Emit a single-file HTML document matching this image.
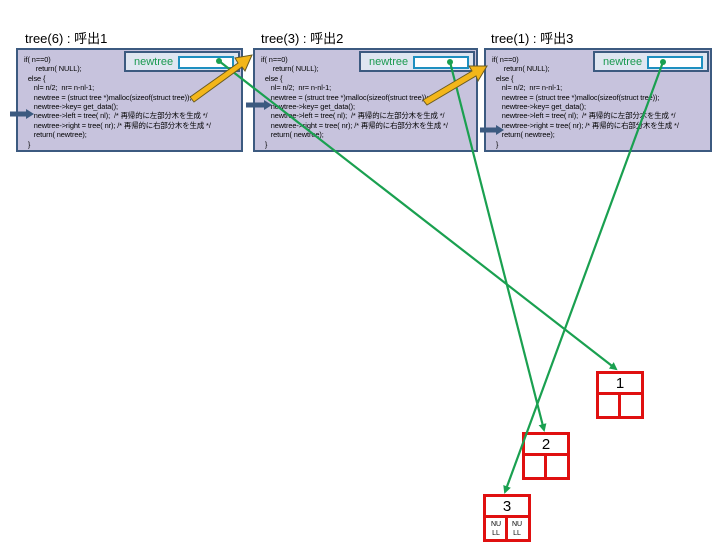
<!DOCTYPE html>
<html><head><meta charset="utf-8"><style>
body{margin:0;width:720px;height:540px;background:#fff;position:relative;overflow:hidden;font-family:"Liberation Sans","Noto Sans CJK JP",sans-serif}
.t{position:absolute;font-size:13px;color:#000}
.box{position:absolute;top:48px;height:100px;background:#c7c3dd;border:2px solid #3c5a80}
.code{position:absolute;left:6px;top:5px;font-size:7.4px;line-height:9.4px;color:#000;white-space:pre;letter-spacing:-0.1px}
.pan{position:absolute;top:1px;height:21px;width:116px;right:1px;background:#dfe6f1;border:2px solid #3c5a80;box-sizing:border-box}
.pan span{position:absolute;left:8px;top:3px;font-size:11px;color:#1a9a50}
.pan i{position:absolute;right:4px;top:3px;width:52px;height:9px;background:#fff;border:2px solid #1e8fc0}
.nd{position:absolute;width:42px;height:42px;border:3px solid #e01010;background:#fff}
.nd .k{position:absolute;left:0;top:0;width:42px;height:18px;border-bottom:3px solid #e01010;text-align:center;font-size:15px;line-height:19px}
.nd .v{position:absolute;left:19px;top:21px;width:3px;height:21px;background:#e01010}
</style></head><body>
<div class="t" style="left:25px;top:28px">tree(6) : 呼出1</div>
<div class="t" style="left:261px;top:28px">tree(3) : 呼出2</div>
<div class="t" style="left:491px;top:28px">tree(1) : 呼出3</div>

<div class="box" style="left:16px;width:223px"><div class="code">if( n==0)
      return( NULL);
  else {
     nl= n/2;  nr= n-nl-1;
     newtree = (struct tree *)malloc(sizeof(struct tree));
     newtree->key= get_data();
     newtree->left = tree( nl);  /* 再帰的に左部分木を生成 */
     newtree->right = tree( nr); /* 再帰的に右部分木を生成 */
     return( newtree);
  }</div><div class="pan"><span>newtree</span><i></i></div></div>

<div class="box" style="left:253px;width:221px"><div class="code">if( n==0)
      return( NULL);
  else {
     nl= n/2;  nr= n-nl-1;
     newtree = (struct tree *)malloc(sizeof(struct tree));
     newtree->key= get_data();
     newtree->left = tree( nl);  /* 再帰的に左部分木を生成 */
     newtree->right = tree( nr); /* 再帰的に右部分木を生成 */
     return( newtree);
  }</div><div class="pan"><span>newtree</span><i></i></div></div>

<div class="box" style="left:484px;width:224px"><div class="code">if( n==0)
      return( NULL);
  else {
     nl= n/2;  nr= n-nl-1;
     newtree = (struct tree *)malloc(sizeof(struct tree));
     newtree->key= get_data();
     newtree->left = tree( nl);  /* 再帰的に左部分木を生成 */
     newtree->right = tree( nr); /* 再帰的に右部分木を生成 */
     return( newtree);
  }</div><div class="pan"><span>newtree</span><i></i></div></div>

<div class="nd" style="left:596px;top:371px"><div class="k">1</div><div class="v"></div></div>
<div class="nd" style="left:522px;top:432px"><div class="k">2</div><div class="v"></div></div>
<div class="nd" style="left:483px;top:494px"><div class="k">3</div><div class="v"></div>
<div style="position:absolute;left:3px;top:23px;font-size:7px;line-height:9px;text-align:center;width:14px">NU<br>LL</div>
<div style="position:absolute;left:24px;top:23px;font-size:7px;line-height:9px;text-align:center;width:14px">NU<br>LL</div></div>

<svg width="720" height="540" style="position:absolute;left:0;top:0">
<defs><marker id="g" markerWidth="8" markerHeight="8" refX="6" refY="4" orient="auto" markerUnits="userSpaceOnUse"><path d="M0,0L8,4L0,8z" fill="#1aa050"/></marker>
<marker id="b" markerWidth="8" markerHeight="10" refX="4" refY="5" orient="auto" markerUnits="userSpaceOnUse"><path d="M0,0L8,5L0,10z" fill="#3c5a80"/></marker></defs>
<g stroke="#1aa050" stroke-width="2.2" fill="none">
<line x1="219" y1="61" x2="616" y2="369" marker-end="url(#g)"/>
<line x1="450" y1="62" x2="544" y2="430" marker-end="url(#g)"/>
<line x1="663" y1="62" x2="505" y2="492" marker-end="url(#g)"/>
</g>
<g fill="#1aa050"><circle cx="219" cy="61" r="3"/><circle cx="450" cy="62" r="3"/><circle cx="663" cy="62" r="3"/></g>
<g stroke="#3c5a80" stroke-width="5"><line x1="10" y1="114" x2="30" y2="114" marker-end="url(#b)"/><line x1="246" y1="105" x2="268" y2="105" marker-end="url(#b)"/><line x1="480" y1="130" x2="500" y2="130" marker-end="url(#b)"/></g>
<g fill="#f3b61a" stroke="#6a5a20" stroke-width="1">
<polygon points="190,97 238,63 235,58 252,55 245,71 242,67 194,102"/>
<polygon points="423,100 472,71 469,66 487,66 478,81 476,76 427,105"/>
</g>
</svg>
</body></html>
